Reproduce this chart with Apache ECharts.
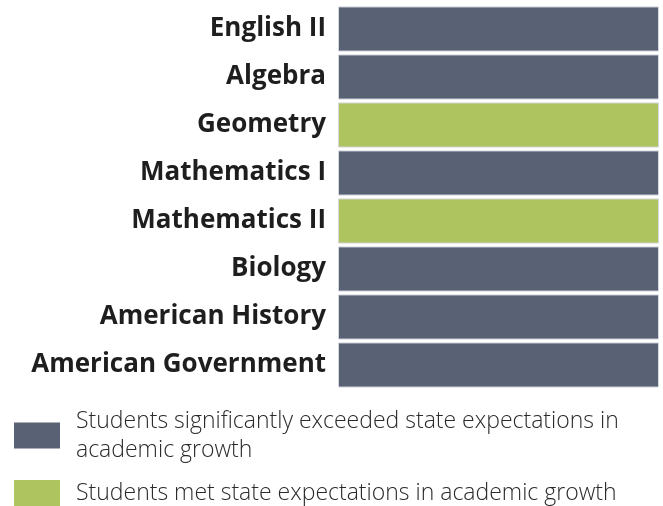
<!DOCTYPE html>
<html>
<head>
<meta charset="utf-8">
<script src="https://cdn.jsdelivr.net/npm/echarts@6/dist/echarts.min.js"></script>
<style>
  html, body { margin: 0; padding: 0; background: #fff; }
  #main { width: 663px; height: 506px; }
</style>
</head>
<body>
<div id="main"></div>
<script>
var subjects = ['English II', 'Algebra', 'Geometry', 'Mathematics I', 'Mathematics II', 'Biology', 'American History', 'American Government'];
// 100 = the whole bar for that subject, '-' = not in this group
var exceeded = [100, 100, '-', 100, '-', 100, 100, 100];
var met = ['-', '-', 100, '-', 100, '-', '-', '-'];
var seriesNames = ['Students significantly exceeded state expectations in academic growth', 'Students met state expectations in academic growth'];

var myChart = echarts.init(document.getElementById('main'));

var barBorder = {
    borderColor: '#d3d7de',
    borderWidth: 1
};

option = {
    animation: false,
    grid: {
        left: 338,
        right: 4,
        top: 5,
        height: 384
    },
    xAxis: {
        type: 'value',
        min: 0,
        max: 100,
        show: false
    },
    yAxis: {
        type: 'category',
        inverse: true,
        data: subjects,
        axisLine: { show: false },
        axisTick: { show: false },
        axisLabel: {
            margin: 12,
            padding: [6, 0, 0, 0],
            fontFamily: 'Open Sans',
            fontSize: 26,
            fontWeight: 'bold',
            color: '#1e1e1e'
        }
    },
    legend: {
        orient: 'vertical',
        left: 14,
        top: 404,
        padding: 0,
        itemWidth: 46,
        itemHeight: 26,
        itemGap: 9,
        icon: 'rect',
        itemStyle: { borderWidth: 0 },
        textStyle: {
            fontFamily: 'Open Sans',
            fontSize: 23,
            fontWeight: 300,
            color: '#2a2a2a',
            width: 580,
            overflow: 'break',
            lineHeight: 29,
            padding: [5, 0, 0, 11]
        },
        data: seriesNames
    },
    series: [
        {
            name: seriesNames[0],
            type: 'bar',
            stack: 'all',
            barCategoryGap: '6%',
            itemStyle: Object.assign({ color: '#596175' }, barBorder),
            data: exceeded
        },
        {
            name: seriesNames[1],
            type: 'bar',
            stack: 'all',
            barCategoryGap: '6%',
            itemStyle: Object.assign({ color: '#aec45e' }, barBorder),
            data: met
        }
    ]
};
myChart.setOption(option);
</script>
</body>
</html>
